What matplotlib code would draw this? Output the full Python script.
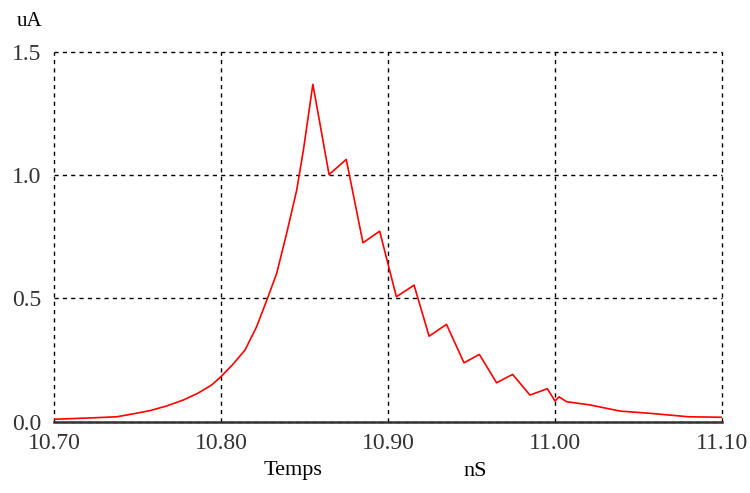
import matplotlib.pyplot as plt

# current trace (time in nS, current in uA)
t = [10.700, 10.7205, 10.7375, 10.7475, 10.7575, 10.7675, 10.7774, 10.7860, 10.7944, 10.800,
     10.807, 10.8144, 10.8213, 10.8274, 10.8333, 10.8393, 10.8453, 10.8493, 10.855,
     10.8647, 10.875, 10.885, 10.895, 10.905, 10.9156, 10.9246, 10.935,
     10.9455, 10.9547, 10.965, 10.9746, 10.985, 10.9954, 11.000, 11.0024,
     11.007, 11.021, 11.039, 11.057, 11.080, 11.100]
i = [0.010, 0.015, 0.020, 0.032, 0.045, 0.064, 0.088, 0.115, 0.149, 0.183,
     0.232, 0.291, 0.385, 0.493, 0.601, 0.764, 0.939, 1.100, 1.369,
     1.003, 1.064, 0.726, 0.773, 0.507, 0.554, 0.347, 0.395,
     0.239, 0.273, 0.158, 0.192, 0.108, 0.134, 0.084, 0.101,
     0.081, 0.068, 0.043, 0.034, 0.020, 0.018]

xticks = [10.70, 10.80, 10.90, 11.00, 11.10]
yticks = [0.0, 0.5, 1.0, 1.5]

plt.rcParams['font.family'] = ['Liberation Serif']

fig = plt.figure(figsize=(7.5, 4.93), dpi=100)
ax = fig.add_axes([0.072, 0.1446, 0.8907, 0.7499])

ax.plot(t, i, color='#ff0000', lw=1.2, zorder=4)

ax.set_xlim(10.70, 11.10)
ax.set_ylim(0, 1.5)
ax.set_xticks(xticks)
ax.set_xticklabels([f"{v:.2f}" for v in xticks])
ax.set_yticks(yticks)
ax.set_yticklabels([f"{v:.1f}" for v in yticks])
ax.tick_params(length=0, labelsize=17, colors='#333333')
ax.tick_params(axis='x', pad=8)
ax.tick_params(axis='y', pad=9)

ax.grid(True, color='black', linestyle=(0, (3, 3)), lw=1)
for gl in ax.get_xgridlines() + ax.get_ygridlines():
    gl.set_clip_on(False)
for s in ['top', 'right', 'left']:
    ax.spines[s].set_visible(False)
ax.spines['bottom'].set_color('#333333')
ax.spines['bottom'].set_linewidth(1.8)
ax.spines['bottom'].set_zorder(3)

fig.text(30 / 750, 1 - 22 / 493, "uA", fontsize=15, ha='center', va='center')
fig.text(293 / 750, 1 - 471 / 493, "Temps", fontsize=16, ha='center', va='center')
fig.text(475 / 750, 1 - 471 / 493, "nS", fontsize=16, ha='center', va='center')

fig.savefig("out.png", dpi=100)
